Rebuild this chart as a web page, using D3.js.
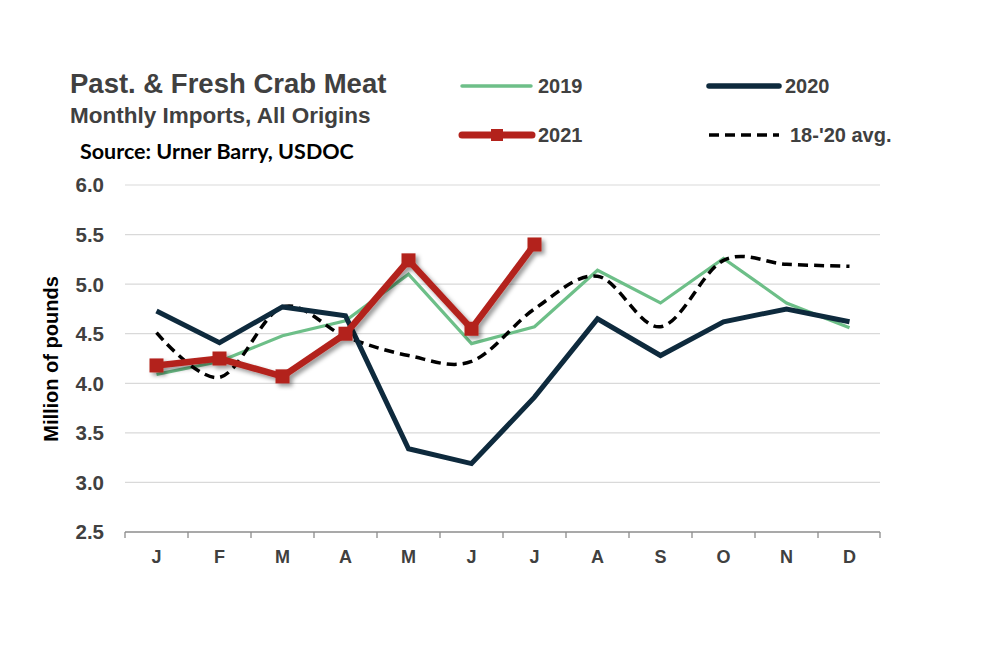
<!DOCTYPE html>
<html><head><meta charset="utf-8">
<script src="https://cdn.jsdelivr.net/npm/d3@7"></script>
<style>body{margin:0;background:#fff}svg{display:block}</style>
</head><body><svg id="c" width="994" height="658"></svg>
<script>
const months = ["J","F","M","A","M","J","J","A","S","O","N","D"];
const yTicks = [2.5,3.0,3.5,4.0,4.5,5.0,5.5,6.0];
const s2019 = [4.09,4.22,4.48,4.63,5.10,4.40,4.57,5.14,4.81,5.26,4.81,4.56];
const s2020 = [4.73,4.41,4.77,4.68,3.34,3.19,3.86,4.65,4.28,4.62,4.75,4.62];
const s2021 = [4.18,4.25,4.07,4.50,5.24,4.55,5.40];
const sAvg  = [4.51,4.06,4.77,4.47,4.28,4.22,4.75,5.08,4.57,5.24,5.20,5.18];

const svg = d3.select("#c");
const L=125,R=881,T=185,B=532;
const x = d3.scaleBand().domain(d3.range(12)).range([L,R]);
const y = d3.scaleLinear().domain([2.5,6.0]).range([B,T]);
const cx = i => x(i)+x.bandwidth()/2;
const gray="#404040";
const tf = "Liberation Sans, Arial, sans-serif";

const defs = svg.append("defs");
const f = defs.append("filter").attr("id","sh").attr("x","-20%").attr("y","-20%").attr("width","140%").attr("height","140%");
f.append("feDropShadow").attr("dx",3).attr("dy",3).attr("stdDeviation",2.2).attr("flood-color","#000").attr("flood-opacity",0.4);

// gridlines
svg.append("g").selectAll("line").data(yTicks.slice(1)).join("line")
  .attr("x1",L).attr("x2",R-1).attr("y1",d=>y(d)).attr("y2",d=>y(d))
  .attr("stroke","#d9d9d9").attr("stroke-width",1.2);

// y labels
svg.append("g").selectAll("text").data(yTicks).join("text")
  .attr("x",104).attr("y",d=>y(d)).attr("dy","0.36em").attr("text-anchor","end")
  .attr("font-family",tf).attr("font-weight","bold")
  .attr("font-size",20.5).attr("fill",gray).text(d=>d.toFixed(1));

// x axis
const xa = svg.append("g").attr("transform",`translate(0,${B})`);
xa.append("line").attr("x1",L).attr("x2",R-1).attr("stroke","#8c8c8c").attr("stroke-width",1.3);
xa.selectAll("line.t").data(d3.range(13)).join("line").attr("class","t")
  .attr("x1",i=>i<12?x(i):R-1).attr("x2",i=>i<12?x(i):R-1).attr("y1",0).attr("y2",6)
  .attr("stroke","#8c8c8c").attr("stroke-width",1.3);
xa.selectAll("text").data(months).join("text")
  .attr("x",(d,i)=>cx(i)).attr("y",31).attr("text-anchor","middle")
  .attr("font-family",tf).attr("font-weight","bold")
  .attr("font-size",18).attr("fill",gray).text(d=>d);

// y title
svg.append("text").attr("transform","translate(58,359) rotate(-90)").attr("text-anchor","middle")
  .attr("font-family",tf).attr("font-weight","bold")
  .attr("font-size",20).attr("fill","#000").text("Million of pounds");

const line = d3.line().x((d,i)=>cx(i)).y(d=>y(d));
const smooth = d3.line().x((d,i)=>cx(i)).y(d=>y(d)).curve(d3.curveCatmullRom.alpha(0));

svg.append("path").datum(s2019).attr("d",line).attr("fill","none").attr("stroke","#6dbf88").attr("stroke-width",3.2);
svg.append("path").datum(sAvg).attr("d",smooth).attr("fill","none").attr("stroke","#000").attr("stroke-width",3.5).attr("stroke-dasharray","10,6");
svg.append("path").datum(s2020).attr("d",line).attr("fill","none").attr("stroke","#0e2a3d").attr("stroke-width",5);

const g21 = svg.append("g").attr("filter","url(#sh)");
g21.append("path").datum(s2021).attr("d",line).attr("fill","none").attr("stroke","#b3221c").attr("stroke-width",6.5);
g21.selectAll("rect").data(s2021).join("rect")
  .attr("x",(d,i)=>cx(i)-7).attr("y",d=>y(d)-7).attr("width",14).attr("height",14).attr("fill","#b3221c");

// titles
svg.append("text").attr("x",70).attr("y",93).attr("font-family",tf).attr("font-weight","bold").attr("font-size",27.5).attr("fill",gray).text("Past. & Fresh Crab Meat");
svg.append("text").attr("x",70).attr("y",123).attr("font-family",tf).attr("font-weight","bold").attr("font-size",22.5).attr("fill",gray).text("Monthly Imports, All Origins");
svg.append("text").attr("x",80).attr("y",159).attr("font-family","Lato, Carlito, sans-serif").attr("font-weight","bold").attr("font-size",21.5).attr("fill","#000").text("Source: Urner Barry, USDOC");

// legend
const leg = [
  {name:"2019", x1:462, x2:531, y:86, tx:538, color:"#6dbf88", w:3.5},
  {name:"2020", x1:709, x2:779, y:86, tx:785, color:"#0e2a3d", w:5.5},
  {name:"2021", x1:462, x2:532, y:135, tx:538, color:"#b3221c", w:7, marker:true},
  {name:"18-'20 avg.", x1:709, x2:779, y:135, tx:790, color:"#000", w:3.5, dash:"10,6"}
];
const lg = svg.append("g");
leg.forEach(l=>{
  lg.append("line").attr("x1",l.x1).attr("x2",l.x2).attr("y1",l.y).attr("y2",l.y)
    .attr("stroke",l.color).attr("stroke-width",l.w).attr("stroke-linecap",l.dash?"butt":"round")
    .attr("stroke-dasharray",l.dash||null);
  if(l.marker) lg.append("rect").attr("x",(l.x1+l.x2)/2-6).attr("y",l.y-6).attr("width",12).attr("height",12).attr("fill",l.color);
  lg.append("text").attr("x",l.tx).attr("y",l.y+6.5).attr("font-family",tf).attr("font-weight","bold")
    .attr("font-size",20).attr("fill",gray).text(l.name);
});
</script></body></html>
